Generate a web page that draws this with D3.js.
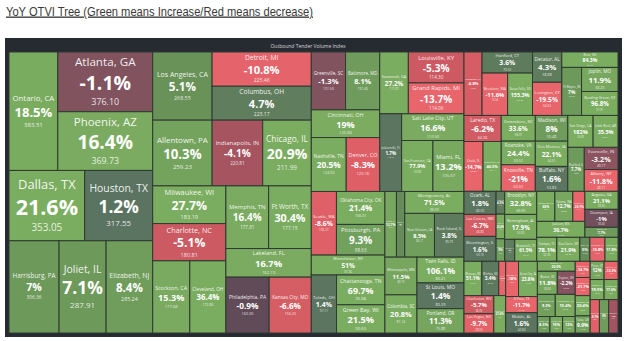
<!DOCTYPE html>
<html>
<head>
<meta charset="utf-8">
<script src="https://cdn.jsdelivr.net/npm/d3@7"></script>
<style>
  body { margin: 0; background: #fff; }
  svg { display: block; }
</style>
</head>
<body>
<svg id="chart" width="627" height="341"></svg>
<script>
// tile names, OTVI value and YoY change (%)
var cities = [
  "Ontario, CA", "Atlanta, GA", "Phoenix, AZ", "Dallas, TX", "Houston, TX", "Harrisburg, PA", "Joliet, IL", "Elizabeth, NJ",
  "Los Angeles, CA", "Detroit, MI", "Columbus, OH", "Allentown, PA", "Indianapolis, IN", "Chicago, IL",
  "Milwaukee, WI", "Charlotte, NC", "Stockton, CA", "Cleveland, OH", "Memphis, TN", "Ft Worth, TX", "Lakeland, FL", "Philadelphia, PA", "Kansas City, MO",
  "Greenville, SC", "Baltimore, MD", "Cincinnati, OH", "Nashville, TN", "Denver, CO", "Savannah, GA", "Louisville, KY", "Grand Rapids, MI",
  "Jacksonville, FL", "Salt Lake City, UT", "San Francisco, CA", "Miami, FL",
  "Seattle, WA", "Oklahoma City, OK", "Pittsburgh, PA", "Westchester, NY", "Toledo, OH", "Chattanooga, TN", "Green Bay, WI",
  "Fresno, CA", "Sacramento, CA", "Montgomery, AL", "New Orleans, LA", "Rock Island, IL", "Minneapolis, MN", "Columbia, SC", "Twin Falls, ID", "St Louis, MO", "Portland, OR",
  "Lakewood, NJ", "Hartford, CT", "Brockton, MA", "Sioux Falls, SD", "Decatur, AL", "Lexington, KY", "Reno, NV", "Ft Wayne, IN", "Joplin, MO", "Bowling Green, KY",
  "Laredo, TX", "Ocala, FL", "Greenville, NC", "Greensboro, NC", "Roanoke, VA", "Knoxville, TN", "Madison, WI", "Des Moines, IA", "Buffalo, NY",
  "San Diego, CA", "Little Rock, AR", "Rockford, IL", "Evansville, IN", "Albany, NY",
  "Ozark, AL", "Las Cruces, NM", "Bloomington, IL", "Yuma, AZ", "Tyler, TX", "Waco, TX", "Brooklyn, NY", "Birmingham, AL", "Fort Smith, AR", "Brownsville, TX",
  "Cumberland, MD", "Yakima, WA", "Reading, PA", "Jackson, MS", "Augusta, GA", "Davenport, IA", "Topeka, KS",
  "Tampa, FL", "Eau Claire, WI", "Erie, PA", "Syracuse, NY", "Pueblo, CO",
  "Wausau, WI", "Wichita, KS", "Flint, MI", "Charleston, WV", "Las Vegas, NV", "Kingsport, TN",
  "Salinas, CA", "Sioux City, IA", "El Paso, TX", "Mobile, AL",
  "Spokane, WA", "Boise, ID", "Dayton, OH", "Charleston, SC", "Wilmington, NC", "Fargo, ND", "Akron, OH", "Macon, GA",
  "Modesto, CA", "Lubbock, TX", "Omaha, NE", "Tulsa, OK",
  "Provo, UT", "Yuba City, CA", "Peoria, IL", "Medford, OR", "Salem, OR", "Lansing, MI", "Canton, OH"
];
var otvi = [
  383.51, 376.10, 369.73, 353.05, 317.55, 306.36, 287.91, 285.24,
  268.55, 225.46, 223.17, 259.23, 220.81, 211.99,
  183.19, 180.81, 177.68, 172.86, 177.81, 177.15, 162.19, 160.30, 156.23,
  131.56, 131.46, 125.84, 124.92, 120.16, 117.07, 114.30, 114.06,
  112.67, 110.50, 105.86, 105.07,
  106.21, 106.01, 98.63, 97.36, 97.11, 95.68, 90.63,
  50.12, 36.40, 86.09, 86.17, 85.79, 80.19, 81.14, 80.41, 80.39, 75.88,
  76.00, 70.52, 72.04, 69.87, 58.88, 64.53, 57.46, 63.02, 58.23, 57.91,
  64.36, 63.05, 60.11, 58.07, 53.52, 60.02, 55.48, 54.51, 53.83,
  53.49, 52.71, 48.02, 49.77, 48.71,
  49.05, 46.80, 53.10, 13.10, 14.20, 12.90, 49.00, 53.00, 14.60, 32.10,
  36.10, 35.80, 24.10, 51.00, 39.50, 39.40, 22.00,
  32.00, 36.70, 16.00, 24.00, 20.70,
  40.70, 38.40, 15.80, 36.00, 38.00, 29.50,
  30.00, 44.00, 34.00, 42.60,
  25.00, 30.60, 27.50, 26.30, 29.30, 13.80, 13.80, 13.80,
  16.00, 18.00, 20.00, 17.00,
  16.80, 16.80, 18.60, 18.60, 20.50, 20.50, 20.60
];
var yoy = [
  18.5, -1.1, 16.4, 21.6, 1.2, 7, 7.1, 8.4,
  5.1, -10.8, 4.7, 10.3, -4.1, 20.9,
  27.7, -5.1, 15.3, 36.4, 16.4, 30.4, 16.7, -0.9, -6.6,
  -1.3, 8.1, 19, 20.5, -8.3, 27.2, -5.3, -13.7,
  1.7, 16.6, 77.9, 13.2,
  -8.6, 21.4, 9.3, 51, 1.4, 69.7, 21.5,
  12.7, 5, 71.5, 8.5, 3.8, 11.5, 20.8, 106.1, 1.4, 11.3,
  -6.8, 3.6, -11.6, 155.3, 4.3, -19.5, 84.3, 7, 11.9, 96.8,
  -6.2, -14.7, 46.5, 33.6, 24.4, -21, 8, 22.1, 1.6,
  182, 35.5, 7.7, -3.2, -11.8,
  1.8, -6.7, 1.6, 4.5, 23.4, 9, 32.8, 17.9, 4, 61.5,
  60, 12.7, -20.1, 30.7, 21.1, -1, 7.7,
  78.1, 21.9, 5, -10.8, 17.8,
  51.1, 3.4, -13.2, -5.7, -9.7, 21.6,
  -18, 23.8, -11.7, 1.6,
  20.5, 11.8, -2.2, 9.2, 15.4, 8.5, 15, 12,
  -14.7, -21.7, 20.4, 9.9,
  12, -12.3, 19.5, 17.6, -9.1, 8, -4
];

// how the tiles are grouped (Power BI alternates columns / rows at each level)
var layout = [
  [
    ["Ontario, CA", ["Atlanta, GA", "Phoenix, AZ"]],
    ["Dallas, TX", "Houston, TX"],
    ["Harrisburg, PA", "Joliet, IL", "Elizabeth, NJ"]
  ],
  [
    ["Los Angeles, CA", ["Detroit, MI", "Columbus, OH"]],
    ["Allentown, PA", "Indianapolis, IN", "Chicago, IL"],
    [
      ["Milwaukee, WI", "Charlotte, NC", ["Stockton, CA", "Cleveland, OH"]],
      [["Memphis, TN", "Ft Worth, TX"], "Lakeland, FL", ["Philadelphia, PA", "Kansas City, MO"]]
    ]
  ],
  [
    [
      [["Greenville, SC", "Baltimore, MD"], "Cincinnati, OH", ["Nashville, TN", "Denver, CO"]],
      [["Savannah, GA", ["Louisville, KY", "Grand Rapids, MI"]],
       ["Jacksonville, FL", ["Salt Lake City, UT", ["San Francisco, CA", "Miami, FL"]]]]
    ],
    [
      [["Seattle, WA", ["Oklahoma City, OK", "Pittsburgh, PA"]], "Westchester, NY",
       ["Toledo, OH", ["Chattanooga, TN", "Green Bay, WI"]]],
      [["Fresno, CA", "Sacramento, CA", ["Montgomery, AL", ["New Orleans, LA", "Rock Island, IL"]]],
       [["Minneapolis, MN", "Columbia, SC"], ["Twin Falls, ID", "St Louis, MO", "Portland, OR"]]]
    ]
  ],
  [
    ["Lakewood, NJ", ["Hartford, CT", ["Brockton, MA", "Sioux Falls, SD"]], ["Decatur, AL", "Lexington, KY"],
     ["Reno, NV", ["Ft Wayne, IN", ["Joplin, MO", "Bowling Green, KY"]]]],
    [["Laredo, TX", ["Ocala, FL", "Greenville, NC"]], ["Greensboro, NC", "Roanoke, VA", "Knoxville, TN"],
     ["Madison, WI", "Des Moines, IA", "Buffalo, NY"],
     [["San Diego, CA", "Little Rock, AR"], ["Rockford, IL", ["Evansville, IN", "Albany, NY"]]]],
    [["Ozark, AL", "Las Cruces, NM", "Bloomington, IL"],
     ["Yuma, AZ", "Tyler, TX", "Waco, TX"],
     ["Brooklyn, NY", "Birmingham, AL", ["Fort Smith, AR", "Brownsville, TX"]],
     [[[["Cumberland, MD", "Yakima, WA", "Reading, PA"], "Jackson, MS"], ["Augusta, GA", "Davenport, IA", "Topeka, KS"]],
      ["Tampa, FL", "Eau Claire, WI", "Erie, PA", "Syracuse, NY", "Pueblo, CO"]]],
    [[["Wausau, WI", "Wichita, KS", "Flint, MI"], [["Charleston, WV", "Las Vegas, NV"], "Kingsport, TN"]],
     [["Salinas, CA", "Sioux City, IA"], "El Paso, TX", "Mobile, AL"],
     ["Spokane, WA", ["Boise, ID", "Dayton, OH"], ["Charleston, SC", "Wilmington, NC"], ["Fargo, ND", "Akron, OH", "Macon, GA"]],
     ["Modesto, CA", "Lubbock, TX", "Omaha, NE", "Tulsa, OK"],
     [["Provo, UT", "Yuba City, CA"], ["Peoria, IL", "Medford, OR"], ["Salem, OR", "Lansing, MI", "Canton, OH"]]]
  ]
];

var width = 627, height = 341;
var box = {x0: 9, y0: 52, x1: 618, y1: 333};

var svg = d3.select("#chart");

// title
svg.append("text")
  .attr("x", 6).attr("y", 15.5)
  .attr("font-family", "Liberation Sans, Arial, sans-serif")
  .attr("font-size", 13.5)
  .attr("fill", "#3a3a3a")
  .attr("text-decoration", "underline")
  .attr("textLength", 307)
  .attr("lengthAdjust", "spacingAndGlyphs")
  .text("YoY OTVI Tree (Green means Increase/Red means decrease)");

// dark frame of the visual
svg.append("rect")
  .attr("x", 5).attr("y", 38).attr("width", 617).attr("height", 299)
  .attr("fill", "#262b32");

svg.append("text")
  .attr("x", 308).attr("y", 47.5)
  .attr("text-anchor", "middle")
  .attr("font-family", "Open Sans, sans-serif")
  .attr("font-size", 5)
  .attr("fill", "#d8d8d8")
  .text("Outbound Tender Volume Index");

var idx = {};
cities.forEach(function(c, i) { idx[c] = i; });

function toNode(x) {
  if (typeof x === "string") {
    var i = idx[x];
    return {name: x, value: otvi[i], yoy: yoy[i]};
  }
  return {children: x.map(toNode)};
}

var root = d3.hierarchy(toNode(layout))
  .sum(function(d) { return d.children ? 0 : d.value; });

d3.treemap()
  .tile(d3.treemapSliceDice)
  .size([box.x1 - box.x0, box.y1 - box.y0])(root);

var color = d3.scaleLinear()
  .domain([-12, -8, -5.1, -4.1, -3.2, -1.1, -0.9, 0, 1.2, 4.7, 5.1, 8, 12, 20])
  .range(["#e8656b", "#dd5f66", "#cc5a62", "#a55460", "#8c5361", "#80535f", "#614b58", "#58605a",
          "#5b7461", "#607e5d", "#689257", "#6f9c5c", "#78a85f", "#7bad60"])
  .clamp(true);

var tiles = svg.append("g")
  .attr("transform", "translate(" + box.x0 + "," + box.y0 + ")")
  .selectAll("g")
  .data(root.leaves())
  .join("g")
  .attr("transform", function(d) { return "translate(" + d.x0 + "," + d.y0 + ")"; });

tiles.append("rect")
  .attr("width", function(d) { return d.x1 - d.x0; })
  .attr("height", function(d) { return d.y1 - d.y0; })
  .attr("fill", function(d) { return color(d.data.yoy); })
  .attr("stroke", "#2f3a31")
  .attr("stroke-width", 1);

// label block: name, change, value, scaled to fit the tile
var P0 = 10;
tiles.each(function(d) {
  var g = d3.select(this);
  var w = d.x1 - d.x0, h = d.y1 - d.y0;
  var lab = g.append("g").attr("font-family", "Open Sans, sans-serif").attr("fill", "#fff")
    .attr("text-anchor", "middle");
  var t1 = lab.append("text").attr("font-size", 0.6 * P0).attr("fill-opacity", 0.92).text(d.data.name);
  var t2 = lab.append("text").attr("font-size", P0).attr("font-weight", 700).text(d.data.yoy + "%");
  var t3 = lab.append("text").attr("font-size", 0.46 * P0).attr("fill-opacity", 0.85).text(d.data.value.toFixed(2));
  var wMax = Math.max(t1.node().getComputedTextLength(), t2.node().getComputedTextLength(),
    t3.node().getComputedTextLength());
  var k = Math.min(2.15, 0.86 * w / wMax, 0.88 * h / (2.7 * P0));
  var P = P0 * k;
  var cy = h / 2 + 0.08 * P;
  t1.attr("font-size", 0.6 * P).attr("x", w / 2).attr("y", cy - 1.08 * P).attr("dy", "0.35em");
  t2.attr("font-size", P).attr("x", w / 2).attr("y", cy).attr("dy", "0.35em");
  t3.attr("font-size", 0.46 * P).attr("x", w / 2).attr("y", cy + 0.95 * P).attr("dy", "0.35em");
});
</script>
</body>
</html>
